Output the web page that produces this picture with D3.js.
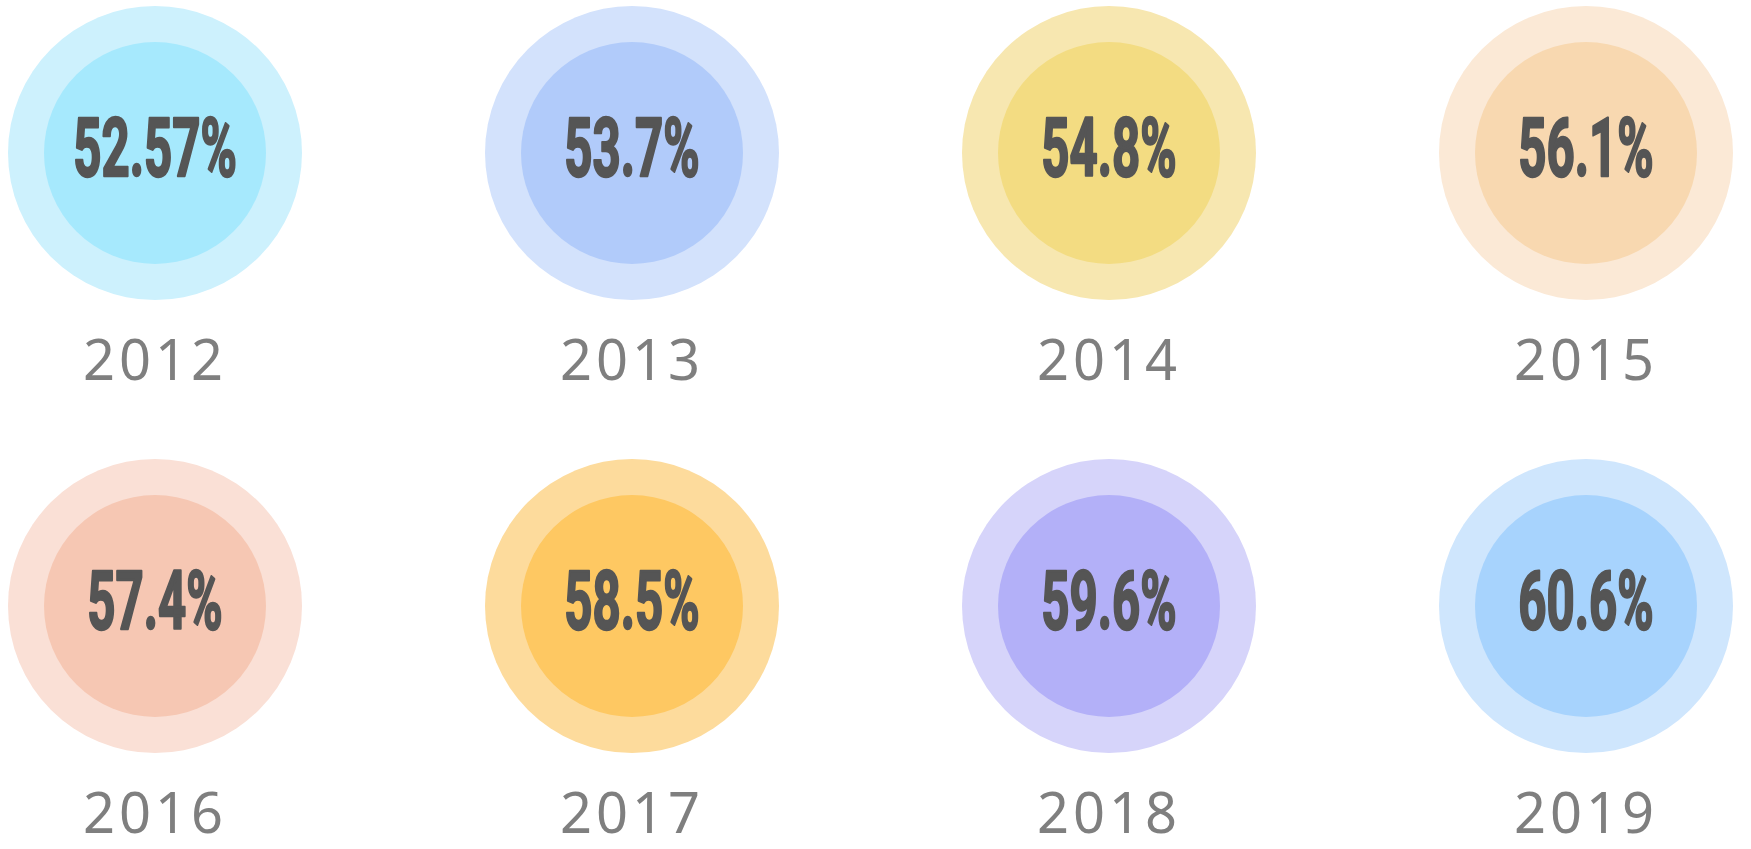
<!DOCTYPE html>
<html>
<head>
<meta charset="utf-8">
<script src="https://cdn.jsdelivr.net/npm/d3@7/dist/d3.min.js"></script>
<style>
  html, body { margin: 0; padding: 0; background: #fff; }
</style>
</head>
<body>
<svg id="svg" width="1751" height="849"></svg>
<script>
// chart data
const years = ["2012", "2013", "2014", "2015", "2016", "2017", "2018", "2019"];
const values = ["52.57%", "53.7%", "54.8%", "56.1%", "57.4%", "58.5%", "59.6%", "60.6%"];
const outerColors = ["#cdf1fd", "#d3e2fc", "#f7e7b0", "#fbe9d6", "#fae0d6", "#fddb9c", "#d6d4fa", "#cfe6fd"];
const innerColors = ["#a6e9fd", "#b1cbfa", "#f3dc82", "#f8d8b0", "#f6c7b3", "#fec862", "#b3b0f8", "#a7d3fd"];

const cols = 4;
const svg = d3.select("#svg");

// column / row positions
const x = d3.scalePoint().domain(d3.range(cols)).range([155, 1586]);
const y = d3.scalePoint().domain([0, 1]).range([153, 606]);

const rOuter = 147, rInner = 111;

const items = years.map((yr, i) => ({ yr: yr, val: values[i], i: i }));

const g = svg.selectAll("g.item")
  .data(items)
  .enter().append("g")
  .attr("class", "item")
  .attr("transform", d => "translate(" + x(d.i % cols) + "," + y(Math.floor(d.i / cols)) + ")");

g.append("circle")
  .attr("r", rOuter)
  .attr("fill", d => outerColors[d.i]);

g.append("circle")
  .attr("r", rInner)
  .attr("fill", d => innerColors[d.i]);

// big percentage, squeezed to look like a condensed face
g.append("text")
  .attr("transform", "scale(0.6,1)")
  .attr("x", 0)
  .attr("y", 23)
  .attr("text-anchor", "middle")
  .style("font-family", "Roboto, 'DejaVu Sans', sans-serif")
  .style("font-weight", 700)
  .style("font-size", "82px")
  .style("fill", "#555555")
  .style("stroke", "#555555")
  .style("stroke-width", 2.5)
  .style("stroke-linejoin", "round")
  .text(d => d.val);

// year under circle
g.append("text")
  .attr("x", 0)
  .attr("y", 227)
  .attr("text-anchor", "middle")
  .style("font-family", "'Noto Sans', 'Open Sans', sans-serif")
  .style("font-weight", 400)
  .style("font-size", "56px")
  .style("letter-spacing", "4px")
  .style("fill", "#7f7f7f")
  .text(d => d.yr);
</script>
</body>
</html>
